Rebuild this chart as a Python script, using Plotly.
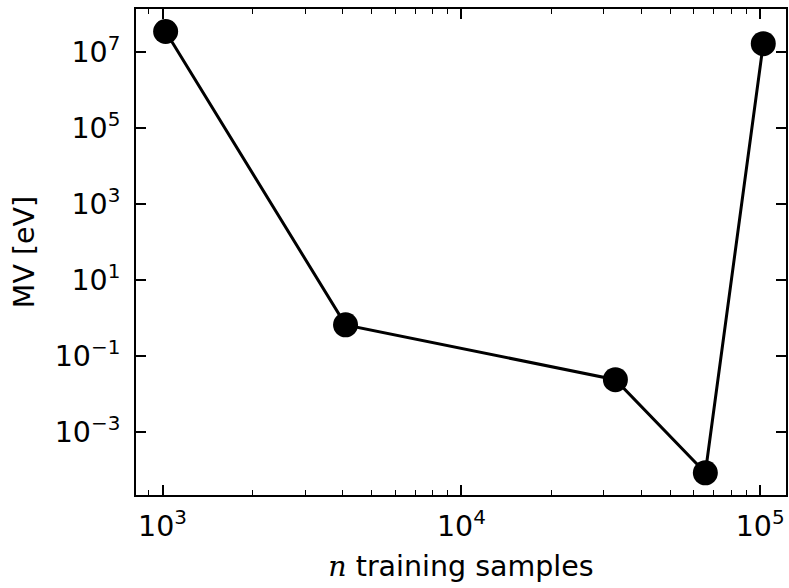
import plotly.graph_objects as go
import numpy as np

n_samples = [1024, 4096, 32768, 65536, 102400]
mv_ev = [3.5e7, 0.65, 0.0233, 8.2e-5, 1.67e7]

x_tick_vals = [1e3, 1e4, 1e5]
x_tick_text = ["10<sup>3</sup>", "10<sup>4</sup>", "10<sup>5</sup>"]
y_tick_vals = [1e-3, 1e-1, 1e1, 1e3, 1e5, 1e7]
y_tick_text = ["10<sup>\u22123</sup>", "10<sup>\u22121</sup>", "10<sup>1</sup>",
               "10<sup>3</sup>", "10<sup>5</sup>", "10<sup>7</sup>"]
x_minor_vals = [m * 10 ** e for e in (2, 3, 4, 5) for m in range(2, 10)]

FONT = "DejaVu Sans"

fig = go.Figure()
fig.add_trace(go.Scatter(
    x=n_samples, y=mv_ev, mode="lines+markers",
    line=dict(color="black", width=3),
    marker=dict(color="black", size=25, line=dict(width=0)),
    showlegend=False,
))

fig.update_layout(
    width=789, height=588,
    margin=dict(l=136, r=1, t=9, b=93),
    paper_bgcolor="white", plot_bgcolor="white",
    font=dict(family=FONT, size=28, color="black"),
    xaxis=dict(
        type="log", range=[np.log10(815), np.log10(122000)],
        tickvals=x_tick_vals, ticktext=x_tick_text,
        ticks="inside", ticklen=10, tickwidth=1.5, tickcolor="black",
        showline=True, linecolor="black", linewidth=1.8, mirror="allticks",
        showgrid=False, zeroline=False,
        minor=dict(tickvals=x_minor_vals, ticks="inside", ticklen=5,
                   tickwidth=1.2, tickcolor="black", showgrid=False),
        ticklabelstandoff=5,
        title=dict(text="<i style='font-family:DejaVu Serif'>n</i> training samples",
                   standoff=14, font=dict(size=28.5)),
        tickfont=dict(size=28.5),
    ),
    yaxis=dict(
        type="log", range=[-4.671, 8.137],
        tickvals=y_tick_vals, ticktext=y_tick_text,
        ticks="inside", ticklen=10, tickwidth=1.5, tickcolor="black",
        showline=True, linecolor="black", linewidth=1.8, mirror="allticks",
        showgrid=False, zeroline=False,
        ticklabelstandoff=8,
        title=dict(text="MV [eV]", standoff=12, font=dict(size=28.5)),
        tickfont=dict(size=28.5),
    ),
)

fig.write_html("out.html")
